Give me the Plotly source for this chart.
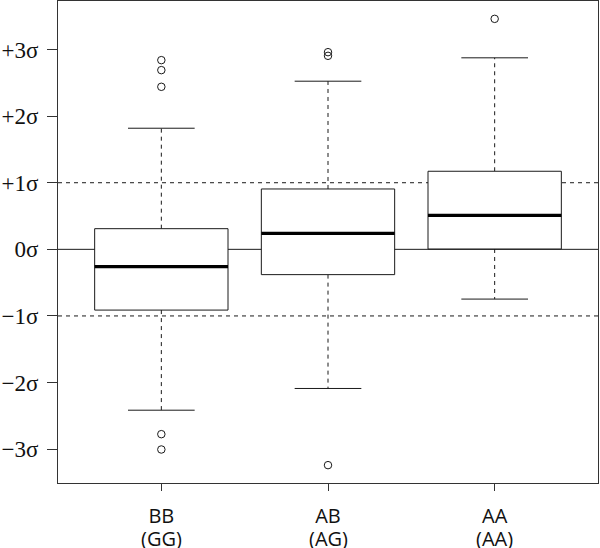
import plotly.graph_objects as go

# ---- data ----
groups = ["BB", "AB", "AA"]
genotypes = ["(GG)", "(AG)", "(AA)"]
positions = [1, 2, 3]
q1 = [-0.912, -0.38, 0.005]
median = [-0.26, 0.24, 0.511]
q3 = [0.31, 0.906, 1.172]
lower_whisker = [-2.415, -2.089, -0.747]
upper_whisker = [1.818, 2.524, 2.875]
outliers_bb = [2.84, 2.69, 2.44, -2.775, -3.005]
outliers_ab = [2.96, 2.905, -3.24]
outliers_aa = [3.46]
y_tick_vals = [-3, -2, -1, 0, 1, 2, 3]
y_tick_text = ["\u22123\u03c3", "\u22122\u03c3", "\u22121\u03c3", "0\u03c3", "+1\u03c3", "+2\u03c3", "+3\u03c3"]
ref_dashed = [-1, 1]
ref_solid = [0]

box_half = 0.4
cap_half = 0.2
ink = "#1a1a1a"
xfont = dict(family="Open Sans", size=20, color="#111")

fig = go.Figure()

# reference lines
for v in ref_dashed:
    fig.add_shape(type="line", xref="paper", x0=0, x1=1, yref="y", y0=v, y1=v,
                  line=dict(color=ink, width=1, dash="4px,4px"), layer="below")
for v in ref_solid:
    fig.add_shape(type="line", xref="paper", x0=0, x1=1, yref="y", y0=v, y1=v,
                  line=dict(color=ink, width=1), layer="below")

# whiskers (dashed)
wx, wy = [], []
for p, a, b, c, d in zip(positions, q1, q3, lower_whisker, upper_whisker):
    wx += [p, p, None, p, p, None]
    wy += [b, d, None, a, c, None]
fig.add_trace(go.Scatter(x=wx, y=wy, mode="lines", line=dict(color=ink, width=1, dash="4px,4px"),
                         hoverinfo="skip", showlegend=False))

# caps
cx, cy = [], []
for p, c, d in zip(positions, lower_whisker, upper_whisker):
    cx += [p - cap_half, p + cap_half, None, p - cap_half, p + cap_half, None]
    cy += [d, d, None, c, c, None]
fig.add_trace(go.Scatter(x=cx, y=cy, mode="lines", line=dict(color=ink, width=1),
                         hoverinfo="skip", showlegend=False))

# boxes
bx, by = [], []
for p, a, b in zip(positions, q1, q3):
    bx += [p - box_half, p + box_half, p + box_half, p - box_half, p - box_half, None]
    by += [a, a, b, b, a, None]
fig.add_trace(go.Scatter(x=bx, y=by, mode="lines", line=dict(color=ink, width=1),
                         fill="toself", fillcolor="white",
                         hoverinfo="skip", showlegend=False))

# medians
mx, my = [], []
for p, m in zip(positions, median):
    mx += [p - box_half, p + box_half, None]
    my += [m, m, None]
fig.add_trace(go.Scatter(x=mx, y=my, mode="lines", line=dict(color="black", width=3.2),
                         hoverinfo="skip", showlegend=False))

# outliers
ox, oy = [], []
for p, outs in zip(positions, [outliers_bb, outliers_ab, outliers_aa]):
    ox += [p] * len(outs)
    oy += outs
fig.add_trace(go.Scatter(x=ox, y=oy, mode="markers",
                         marker=dict(symbol="circle-open", size=7.5, color=ink, line=dict(width=1)),
                         hoverinfo="skip", showlegend=False))

# second line of x labels
for p, g in zip(positions, genotypes):
    fig.add_annotation(x=p, xref="x", y=0, yref="paper", yanchor="top", yshift=-40,
                       text=g, showarrow=False, font=xfont)

all_vals = lower_whisker + upper_whisker + outliers_bb + outliers_ab + outliers_aa
lo, hi = min(all_vals), max(all_vals)
pad = 0.04 * (hi - lo)

fig.update_layout(
    width=600, height=548,
    margin=dict(l=58, r=2, t=1, b=65),
    paper_bgcolor="white", plot_bgcolor="white",
    showlegend=False,
    xaxis=dict(range=[0.5 - 0.04 * 3, 3.5 + 0.04 * 3], tickmode="array", tickvals=positions,
               ticktext=groups, ticks="outside", ticklen=7, tickcolor="#333", automargin=False,
               ticklabelstandoff=8,
               showgrid=False, zeroline=False, showline=True, mirror=True, linecolor="#333",
               linewidth=1, tickfont=xfont),
    yaxis=dict(range=[lo - pad, hi + pad], tickmode="array", tickvals=y_tick_vals,
               ticktext=y_tick_text, ticks="outside", ticklen=10, tickcolor="#333", automargin=False,
               ticklabelstandoff=4,
               showgrid=False, zeroline=False, showline=True, mirror=True, linecolor="#333",
               linewidth=1, tickfont=dict(family="Liberation Serif", size=23, color="#111")),
)

fig.write_html("out.html", config={"displayModeBar": False},
               post_script="document.body.style.margin='0';document.body.style.overflow='hidden';")
